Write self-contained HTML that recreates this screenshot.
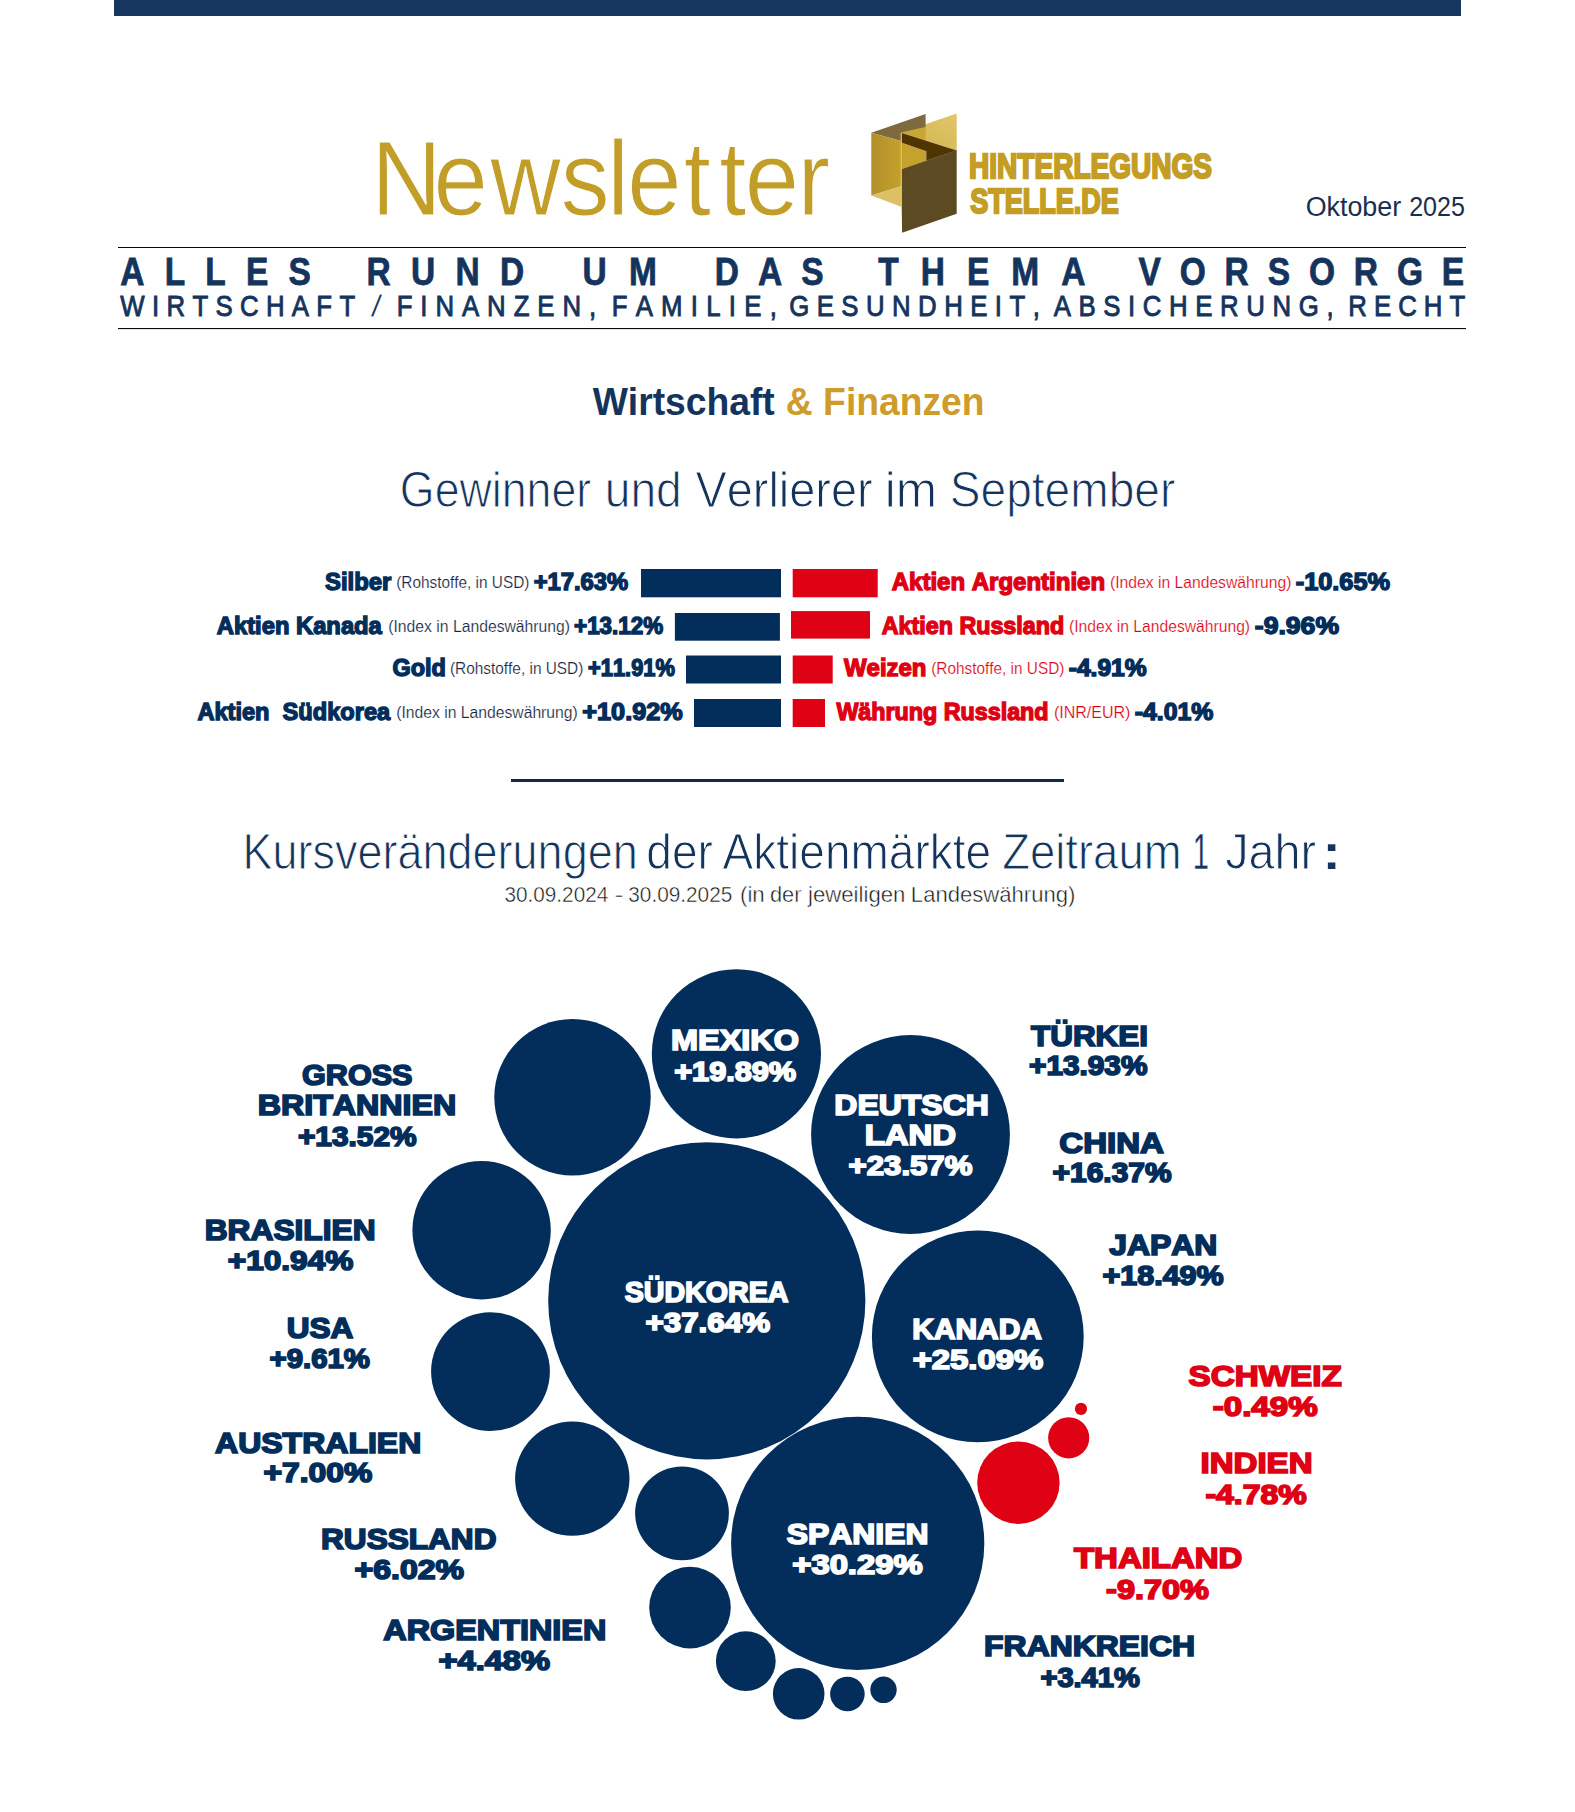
<!DOCTYPE html>
<html lang="de">
<head>
<meta charset="utf-8">
<title>Newsletter Hinterlegungsstelle.de – Oktober 2025</title>
<style>
html,body{margin:0;padding:0;background:#fff}
body{width:1575px;height:1812px;overflow:hidden}
svg{display:block}
svg text{font-family:"Liberation Sans", sans-serif;white-space:pre;font-kerning:none}
</style>
</head>
<body>
<svg width="1575" height="1812" viewBox="0 0 1575 1812" xml:space="preserve">
<rect width="1575" height="1812" fill="#ffffff"/>
<!-- top bar -->
<rect x="114.0" y="0.0" width="1347.0" height="16.0" fill="#17375e"/>
<!-- masthead -->
<text transform="translate(0 215.10) scale(0.93 1)" x="399.16 466.01 527.14 602.84 653.04 674.51 735.11 773.50 800.85 857.54" y="0" font-size="105" fill="#c29d27" stroke="#fff" stroke-width="1.0">Newsletter</text>
<g id="logo-mark">
<defs>
<linearGradient id="lgA" x1="0" y1="0" x2="1" y2="0"><stop offset="0" stop-color="#b28f29"/><stop offset="1" stop-color="#c4a12d"/></linearGradient>
<linearGradient id="lgB" x1="0" y1="1" x2="1" y2="0"><stop offset="0" stop-color="#d2b24a"/><stop offset="1" stop-color="#e0c76c"/></linearGradient>
</defs>
<polygon points="901.2,132.6 956.7,113.4 956.7,150.5" fill="url(#lgB)"/>
<polygon points="901.2,132.6 925.6,127 925.6,140.6" fill="#c9a733"/>
<polygon points="871.3,132.8 925.6,114 925.6,127 901.2,132.6 901.2,141" fill="#7f6a3f"/>
<polygon points="871.3,132.8 901.2,141 901.2,186.2 871.3,195.5" fill="url(#lgA)"/>
<polygon points="871.3,195.5 901.2,186.2 901.2,206.7" fill="#dcc063"/>
<polygon points="901.2,142.6 926.3,151.2 926.3,160.7 901.2,169.3" fill="#c5a22b"/>
<polygon points="901.2,132.8 956.7,150.5 926.3,160.7 926.3,151.2 901.2,142.6" fill="#4e3502"/>
<polygon points="901.2,169.3 956.7,150.3 956.7,213.8 902.1,232.8" fill="#5b4a22"/>
<rect x="900.7" y="133" width="1.2" height="73" fill="#e0c84f"/>
</g>
<text x="969.08" y="178.25" font-size="35.47" fill="#c49d25" font-weight="bold" stroke="#c49d25" stroke-width="2.3" textLength="242.87" lengthAdjust="spacingAndGlyphs">HINTERLEGUNGS</text>
<text x="970.17" y="212.55" font-size="35.47" fill="#c49d25" font-weight="bold" stroke="#c49d25" stroke-width="2.3" textLength="148.74" lengthAdjust="spacingAndGlyphs">STELLE.DE</text>
<text x="1305.73" y="216.20" font-size="27.62" fill="#182f52" textLength="95.42" lengthAdjust="spacingAndGlyphs">Oktober</text>
<text x="1409.14" y="216.20" font-size="27.62" fill="#182f52" textLength="55.82" lengthAdjust="spacingAndGlyphs">2025</text>
<rect x="118.0" y="247.0" width="1348.0" height="1.0" fill="#0a0a0a"/>
<rect x="118.0" y="328.0" width="1348.0" height="1.1" fill="#0a0a0a"/>
<text transform="translate(120.27 284.50) scale(0.86 1)" font-size="38.95" fill="#14345d" font-weight="bold" stroke="#14345d" stroke-width="0.8" textLength="221.68" lengthAdjust="spacing">ALLES</text>
<text transform="translate(366.46 284.50) scale(0.86 1)" font-size="38.95" fill="#14345d" font-weight="bold" stroke="#14345d" stroke-width="0.8" textLength="183.54" lengthAdjust="spacing">RUND</text>
<text transform="translate(582.39 284.50) scale(0.86 1)" font-size="38.95" fill="#14345d" font-weight="bold" stroke="#14345d" stroke-width="0.8" textLength="86.57" lengthAdjust="spacing">UM</text>
<text transform="translate(714.86 284.50) scale(0.86 1)" font-size="38.95" fill="#14345d" font-weight="bold" stroke="#14345d" stroke-width="0.8" textLength="126.45" lengthAdjust="spacing">DAS</text>
<text transform="translate(878.32 284.50) scale(0.86 1)" font-size="38.95" fill="#14345d" font-weight="bold" stroke="#14345d" stroke-width="0.8" textLength="240.88" lengthAdjust="spacing">THEMA</text>
<text transform="translate(1138.47 284.50) scale(0.86 1)" font-size="38.95" fill="#14345d" font-weight="bold" stroke="#14345d" stroke-width="0.8" textLength="378.76" lengthAdjust="spacing">VORSORGE</text>
<text transform="translate(120.34 316.15) scale(0.9 1)" font-size="28.63" fill="#14345d" stroke="#14345d" stroke-width="0.9" textLength="260.89" lengthAdjust="spacing">WIRTSCHAFT</text>
<text x="370.05" y="317.05" font-size="31.25" fill="#14345d" stroke="#fff" stroke-width="0.9" textLength="12.90" lengthAdjust="spacingAndGlyphs">/</text>
<text transform="translate(396.64 316.15) scale(0.9 1)" font-size="28.63" fill="#14345d" stroke="#14345d" stroke-width="0.9" textLength="221.70" lengthAdjust="spacing">FINANZEN,</text>
<text transform="translate(611.64 316.15) scale(0.9 1)" font-size="28.63" fill="#14345d" stroke="#14345d" stroke-width="0.9" textLength="183.59" lengthAdjust="spacing">FAMILIE,</text>
<text transform="translate(789.15 316.15) scale(0.9 1)" font-size="28.63" fill="#14345d" stroke="#14345d" stroke-width="0.9" textLength="278.57" lengthAdjust="spacing">GESUNDHEIT,</text>
<text transform="translate(1053.70 316.15) scale(0.9 1)" font-size="28.63" fill="#14345d" stroke="#14345d" stroke-width="0.9" textLength="310.96" lengthAdjust="spacing">ABSICHERUNG,</text>
<text transform="translate(1348.34 316.15) scale(0.9 1)" font-size="28.63" fill="#14345d" stroke="#14345d" stroke-width="0.9" textLength="129.78" lengthAdjust="spacing">RECHT</text>
<!-- section title -->
<text x="592.66" y="414.70" font-size="39.54" fill="#14345d" font-weight="bold" textLength="182.09" lengthAdjust="spacingAndGlyphs">Wirtschaft</text>
<text x="785.86" y="414.70" font-size="39.54" fill="#cf9b2a" font-weight="bold" textLength="198.75" lengthAdjust="spacingAndGlyphs">&amp; Finanzen</text>
<text x="399.85" y="507.10" font-size="49.42" fill="#14345d" stroke="#fff" stroke-width="1.0" textLength="191.39" lengthAdjust="spacingAndGlyphs">Gewinner</text>
<text x="604.80" y="507.10" font-size="49.42" fill="#14345d" stroke="#fff" stroke-width="1.0" textLength="76.97" lengthAdjust="spacingAndGlyphs">und</text>
<text x="695.49" y="507.10" font-size="49.42" fill="#14345d" stroke="#fff" stroke-width="1.0" textLength="177.18" lengthAdjust="spacingAndGlyphs">Verlierer</text>
<text x="884.79" y="507.10" font-size="49.42" fill="#14345d" stroke="#fff" stroke-width="1.0" textLength="52.28" lengthAdjust="spacingAndGlyphs">im</text>
<text x="949.81" y="507.10" font-size="49.42" fill="#14345d" stroke="#fff" stroke-width="1.0" textLength="225.46" lengthAdjust="spacingAndGlyphs">September</text>
<!-- winners and losers -->
<text x="325.01" y="590.30" font-size="24.42" fill="#032e5b" font-weight="bold" stroke="#032e5b" stroke-width="1.4" textLength="66.35" lengthAdjust="spacingAndGlyphs">Silber</text>
<text x="396.25" y="588.20" font-size="16.72" fill="#14243f" stroke="#fff" stroke-width="0.2" textLength="133.10" lengthAdjust="spacingAndGlyphs">(Rohstoffe, in USD)</text>
<text x="533.70" y="590.30" font-size="23.55" fill="#032e5b" font-weight="bold" stroke="#032e5b" stroke-width="1.4" textLength="94.53" lengthAdjust="spacingAndGlyphs">+17.63%</text>
<rect x="641.0" y="569.0" width="140.0" height="28.3" fill="#032e5b"/>
<text x="216.81" y="633.60" font-size="24.42" fill="#032e5b" font-weight="bold" stroke="#032e5b" stroke-width="1.4" textLength="165.04" lengthAdjust="spacingAndGlyphs">Aktien Kanada</text>
<text x="388.22" y="631.50" font-size="16.72" fill="#14243f" stroke="#fff" stroke-width="0.2" textLength="181.85" lengthAdjust="spacingAndGlyphs">(Index in Landeswährung)</text>
<text x="574.06" y="633.60" font-size="23.55" fill="#032e5b" font-weight="bold" stroke="#032e5b" stroke-width="1.4" textLength="89.13" lengthAdjust="spacingAndGlyphs">+13.12%</text>
<rect x="674.9" y="613.0" width="105.0" height="27.7" fill="#032e5b"/>
<text x="392.44" y="676.30" font-size="24.42" fill="#032e5b" font-weight="bold" stroke="#032e5b" stroke-width="1.4" textLength="53.41" lengthAdjust="spacingAndGlyphs">Gold</text>
<text x="449.95" y="674.20" font-size="16.72" fill="#14243f" stroke="#fff" stroke-width="0.2" textLength="133.41" lengthAdjust="spacingAndGlyphs">(Rohstoffe, in USD)</text>
<text x="588.08" y="676.30" font-size="23.55" fill="#032e5b" font-weight="bold" stroke="#032e5b" stroke-width="1.4" textLength="86.79" lengthAdjust="spacingAndGlyphs">+11.91%</text>
<rect x="686.0" y="655.5" width="95.0" height="28.0" fill="#032e5b"/>
<text x="197.41" y="720.30" font-size="24.42" fill="#032e5b" font-weight="bold" stroke="#032e5b" stroke-width="1.4" textLength="192.74" lengthAdjust="spacingAndGlyphs">Aktien  Südkorea</text>
<text x="396.23" y="718.20" font-size="16.72" fill="#14243f" stroke="#fff" stroke-width="0.2" textLength="181.55" lengthAdjust="spacingAndGlyphs">(Index in Landeswährung)</text>
<text x="582.34" y="720.30" font-size="23.55" fill="#032e5b" font-weight="bold" stroke="#032e5b" stroke-width="1.4" textLength="100.33" lengthAdjust="spacingAndGlyphs">+10.92%</text>
<rect x="694.0" y="699.0" width="87.0" height="28.0" fill="#032e5b"/>
<rect x="792.7" y="569.0" width="85.0" height="28.3" fill="#df0214"/>
<text x="891.80" y="590.30" font-size="24.42" fill="#df0214" font-weight="bold" stroke="#df0214" stroke-width="1.4" textLength="213.29" lengthAdjust="spacingAndGlyphs">Aktien Argentinien</text>
<text x="1109.93" y="588.20" font-size="16.72" fill="#df0214" stroke="#fff" stroke-width="0.2" textLength="181.45" lengthAdjust="spacingAndGlyphs">(Index in Landeswährung)</text>
<text x="1295.71" y="590.30" font-size="23.55" fill="#032e5b" font-weight="bold" stroke="#032e5b" stroke-width="1.4" textLength="94.26" lengthAdjust="spacingAndGlyphs">-10.65%</text>
<rect x="791.0" y="611.1" width="79.0" height="27.5" fill="#df0214"/>
<text x="881.82" y="633.60" font-size="24.42" fill="#df0214" font-weight="bold" stroke="#df0214" stroke-width="1.4" textLength="182.31" lengthAdjust="spacingAndGlyphs">Aktien Russland</text>
<text x="1068.93" y="631.50" font-size="16.72" fill="#df0214" stroke="#fff" stroke-width="0.2" textLength="181.14" lengthAdjust="spacingAndGlyphs">(Index in Landeswährung)</text>
<text x="1254.86" y="633.60" font-size="23.55" fill="#032e5b" font-weight="bold" stroke="#032e5b" stroke-width="1.4" textLength="84.14" lengthAdjust="spacingAndGlyphs">-9.96%</text>
<rect x="792.7" y="655.5" width="40.0" height="28.0" fill="#df0214"/>
<text x="843.98" y="676.30" font-size="24.42" fill="#df0214" font-weight="bold" stroke="#df0214" stroke-width="1.4" textLength="82.51" lengthAdjust="spacingAndGlyphs">Weizen</text>
<text x="931.25" y="674.20" font-size="16.72" fill="#df0214" stroke="#fff" stroke-width="0.2" textLength="133.10" lengthAdjust="spacingAndGlyphs">(Rohstoffe, in USD)</text>
<text x="1068.74" y="676.30" font-size="23.55" fill="#032e5b" font-weight="bold" stroke="#032e5b" stroke-width="1.4" textLength="77.91" lengthAdjust="spacingAndGlyphs">-4.91%</text>
<rect x="792.7" y="699.0" width="32.3" height="28.0" fill="#df0214"/>
<text x="836.38" y="720.30" font-size="24.42" fill="#df0214" font-weight="bold" stroke="#df0214" stroke-width="1.4" textLength="212.16" lengthAdjust="spacingAndGlyphs">Währung Russland</text>
<text x="1053.91" y="718.20" font-size="16.72" fill="#df0214" stroke="#fff" stroke-width="0.2" textLength="76.49" lengthAdjust="spacingAndGlyphs">(INR/EUR)</text>
<text x="1134.73" y="720.30" font-size="23.55" fill="#032e5b" font-weight="bold" stroke="#032e5b" stroke-width="1.4" textLength="78.52" lengthAdjust="spacingAndGlyphs">-4.01%</text>
<!-- divider and chart heading -->
<rect x="511.0" y="779.0" width="553.0" height="3.0" fill="#11294a"/>
<text x="242.51" y="869.10" font-size="50.44" fill="#14345d" stroke="#fff" stroke-width="1.0" textLength="395.21" lengthAdjust="spacingAndGlyphs">Kursveränderungen</text>
<text x="646.36" y="869.10" font-size="50.44" fill="#14345d" stroke="#fff" stroke-width="1.0" textLength="66.60" lengthAdjust="spacingAndGlyphs">der</text>
<text x="722.61" y="869.10" font-size="50.44" fill="#14345d" stroke="#fff" stroke-width="1.0" textLength="268.53" lengthAdjust="spacingAndGlyphs">Aktienmärkte</text>
<text x="1002.16" y="869.10" font-size="50.44" fill="#14345d" stroke="#fff" stroke-width="1.0" textLength="179.44" lengthAdjust="spacingAndGlyphs">Zeitraum</text>
<text x="1192.84" y="868.75" font-size="49.42" fill="#14345d" stroke="#fff" stroke-width="0.3" textLength="16.12" lengthAdjust="spacingAndGlyphs">1</text>
<text x="1225.17" y="869.10" font-size="50.44" fill="#14345d" stroke="#fff" stroke-width="1.0" textLength="91.01" lengthAdjust="spacingAndGlyphs">Jahr</text>
<text x="1322.77" y="868.70" font-size="48.98" fill="#14345d" font-weight="bold" textLength="17.76" lengthAdjust="spacingAndGlyphs">:</text>
<text x="504.49" y="901.93" font-size="22.46" fill="#161616" stroke="#fff" stroke-width="0.45" textLength="103.75" lengthAdjust="spacingAndGlyphs">30.09.2024</text>
<text x="614.56" y="901.93" font-size="22.46" fill="#161616" stroke="#fff" stroke-width="0.45" textLength="9.07" lengthAdjust="spacingAndGlyphs">-</text>
<text x="628.28" y="901.93" font-size="22.46" fill="#161616" stroke="#fff" stroke-width="0.45" textLength="104.01" lengthAdjust="spacingAndGlyphs">30.09.2025</text>
<text x="739.99" y="901.93" font-size="22.46" fill="#161616" stroke="#fff" stroke-width="0.45" textLength="24.78" lengthAdjust="spacingAndGlyphs">(in</text>
<text x="769.96" y="901.93" font-size="22.46" fill="#161616" stroke="#fff" stroke-width="0.45" textLength="31.53" lengthAdjust="spacingAndGlyphs">der</text>
<text x="808.02" y="901.93" font-size="22.46" fill="#161616" stroke="#fff" stroke-width="0.45" textLength="97.35" lengthAdjust="spacingAndGlyphs">jeweiligen</text>
<text x="910.86" y="901.93" font-size="22.46" fill="#161616" stroke="#fff" stroke-width="0.45" textLength="164.53" lengthAdjust="spacingAndGlyphs">Landeswährung)</text>
<!-- bubble chart -->
<circle cx="736.4" cy="1053.8" r="84.6" fill="#032e5b"/>
<circle cx="572.5" cy="1097.3" r="78.2" fill="#032e5b"/>
<circle cx="481.6" cy="1230.2" r="69.2" fill="#032e5b"/>
<circle cx="706.8" cy="1300.8" r="158.6" fill="#032e5b"/>
<circle cx="490.5" cy="1371.6" r="59.4" fill="#032e5b"/>
<circle cx="910.5" cy="1134.5" r="99.4" fill="#032e5b"/>
<circle cx="977.8" cy="1336.4" r="105.9" fill="#032e5b"/>
<circle cx="572.3" cy="1478.6" r="57.2" fill="#032e5b"/>
<circle cx="682.0" cy="1513.3" r="46.9" fill="#032e5b"/>
<circle cx="690.0" cy="1607.6" r="40.8" fill="#032e5b"/>
<circle cx="745.8" cy="1661.1" r="29.9" fill="#032e5b"/>
<circle cx="798.7" cy="1693.8" r="25.8" fill="#032e5b"/>
<circle cx="847.4" cy="1694.0" r="17.3" fill="#032e5b"/>
<circle cx="883.5" cy="1689.8" r="13.2" fill="#032e5b"/>
<circle cx="857.7" cy="1543.4" r="126.6" fill="#032e5b"/>
<circle cx="1018.4" cy="1482.7" r="41.2" fill="#df0214"/>
<circle cx="1068.7" cy="1437.8" r="20.6" fill="#df0214"/>
<circle cx="1081.0" cy="1408.9" r="6.1" fill="#df0214"/>
<text x="671.08" y="1050.25" font-size="29.51" fill="#ffffff" font-weight="bold" stroke="#ffffff" stroke-width="1.7" textLength="127.83" lengthAdjust="spacingAndGlyphs">MEXIKO</text>
<text x="674.16" y="1080.75" font-size="28.05" fill="#ffffff" font-weight="bold" stroke="#ffffff" stroke-width="1.7" textLength="122.00" lengthAdjust="spacingAndGlyphs">+19.89%</text>
<text x="834.31" y="1114.65" font-size="29.51" fill="#ffffff" font-weight="bold" stroke="#ffffff" stroke-width="1.7" textLength="154.59" lengthAdjust="spacingAndGlyphs">DEUTSCH</text>
<text x="864.65" y="1144.75" font-size="29.51" fill="#ffffff" font-weight="bold" stroke="#ffffff" stroke-width="1.7" textLength="91.49" lengthAdjust="spacingAndGlyphs">LAND</text>
<text x="848.64" y="1175.45" font-size="28.05" fill="#ffffff" font-weight="bold" stroke="#ffffff" stroke-width="1.7" textLength="123.73" lengthAdjust="spacingAndGlyphs">+23.57%</text>
<text x="624.63" y="1301.65" font-size="29.51" fill="#ffffff" font-weight="bold" stroke="#ffffff" stroke-width="1.7" textLength="163.88" lengthAdjust="spacingAndGlyphs">SÜDKOREA</text>
<text x="645.54" y="1331.85" font-size="28.05" fill="#ffffff" font-weight="bold" stroke="#ffffff" stroke-width="1.7" textLength="124.44" lengthAdjust="spacingAndGlyphs">+37.64%</text>
<text x="912.35" y="1339.15" font-size="29.51" fill="#ffffff" font-weight="bold" stroke="#ffffff" stroke-width="1.7" textLength="129.49" lengthAdjust="spacingAndGlyphs">KANADA</text>
<text x="912.67" y="1368.65" font-size="28.05" fill="#ffffff" font-weight="bold" stroke="#ffffff" stroke-width="1.7" textLength="130.44" lengthAdjust="spacingAndGlyphs">+25.09%</text>
<text x="786.83" y="1544.25" font-size="29.51" fill="#ffffff" font-weight="bold" stroke="#ffffff" stroke-width="1.7" textLength="141.67" lengthAdjust="spacingAndGlyphs">SPANIEN</text>
<text x="792.27" y="1573.85" font-size="28.05" fill="#ffffff" font-weight="bold" stroke="#ffffff" stroke-width="1.7" textLength="130.34" lengthAdjust="spacingAndGlyphs">+30.29%</text>
<text x="301.99" y="1085.45" font-size="29.51" fill="#032e5b" font-weight="bold" stroke="#032e5b" stroke-width="1.7" textLength="110.55" lengthAdjust="spacingAndGlyphs">GROSS</text>
<text x="257.70" y="1115.15" font-size="29.51" fill="#032e5b" font-weight="bold" stroke="#032e5b" stroke-width="1.7" textLength="198.63" lengthAdjust="spacingAndGlyphs">BRITANNIEN</text>
<text x="297.90" y="1145.75" font-size="28.05" fill="#032e5b" font-weight="bold" stroke="#032e5b" stroke-width="1.7" textLength="118.74" lengthAdjust="spacingAndGlyphs">+13.52%</text>
<text x="204.73" y="1240.45" font-size="29.51" fill="#032e5b" font-weight="bold" stroke="#032e5b" stroke-width="1.7" textLength="170.86" lengthAdjust="spacingAndGlyphs">BRASILIEN</text>
<text x="227.82" y="1270.45" font-size="28.05" fill="#032e5b" font-weight="bold" stroke="#032e5b" stroke-width="1.7" textLength="125.46" lengthAdjust="spacingAndGlyphs">+10.94%</text>
<text x="286.65" y="1337.75" font-size="29.51" fill="#032e5b" font-weight="bold" stroke="#032e5b" stroke-width="1.7" textLength="66.63" lengthAdjust="spacingAndGlyphs">USA</text>
<text x="269.62" y="1368.05" font-size="28.05" fill="#032e5b" font-weight="bold" stroke="#032e5b" stroke-width="1.7" textLength="100.31" lengthAdjust="spacingAndGlyphs">+9.61%</text>
<text x="215.05" y="1452.75" font-size="29.51" fill="#032e5b" font-weight="bold" stroke="#032e5b" stroke-width="1.7" textLength="206.25" lengthAdjust="spacingAndGlyphs">AUSTRALIEN</text>
<text x="263.51" y="1482.45" font-size="28.05" fill="#032e5b" font-weight="bold" stroke="#032e5b" stroke-width="1.7" textLength="108.77" lengthAdjust="spacingAndGlyphs">+7.00%</text>
<text x="321.04" y="1548.75" font-size="29.51" fill="#032e5b" font-weight="bold" stroke="#032e5b" stroke-width="1.7" textLength="175.44" lengthAdjust="spacingAndGlyphs">RUSSLAND</text>
<text x="354.51" y="1578.75" font-size="28.05" fill="#032e5b" font-weight="bold" stroke="#032e5b" stroke-width="1.7" textLength="109.49" lengthAdjust="spacingAndGlyphs">+6.02%</text>
<text x="383.34" y="1640.15" font-size="29.51" fill="#032e5b" font-weight="bold" stroke="#032e5b" stroke-width="1.7" textLength="222.99" lengthAdjust="spacingAndGlyphs">ARGENTINIEN</text>
<text x="438.48" y="1669.75" font-size="28.05" fill="#032e5b" font-weight="bold" stroke="#032e5b" stroke-width="1.7" textLength="111.53" lengthAdjust="spacingAndGlyphs">+4.48%</text>
<text x="1031.10" y="1045.95" font-size="29.51" fill="#032e5b" font-weight="bold" stroke="#032e5b" stroke-width="1.7" textLength="116.85" lengthAdjust="spacingAndGlyphs">TÜRKEI</text>
<text x="1029.00" y="1075.15" font-size="28.05" fill="#032e5b" font-weight="bold" stroke="#032e5b" stroke-width="1.7" textLength="118.44" lengthAdjust="spacingAndGlyphs">+13.93%</text>
<text x="1059.29" y="1152.55" font-size="29.51" fill="#032e5b" font-weight="bold" stroke="#032e5b" stroke-width="1.7" textLength="104.73" lengthAdjust="spacingAndGlyphs">CHINA</text>
<text x="1052.59" y="1182.05" font-size="28.05" fill="#032e5b" font-weight="bold" stroke="#032e5b" stroke-width="1.7" textLength="118.95" lengthAdjust="spacingAndGlyphs">+16.37%</text>
<text x="1109.27" y="1255.45" font-size="29.51" fill="#032e5b" font-weight="bold" stroke="#032e5b" stroke-width="1.7" textLength="108.03" lengthAdjust="spacingAndGlyphs">JAPAN</text>
<text x="1102.57" y="1285.45" font-size="28.05" fill="#032e5b" font-weight="bold" stroke="#032e5b" stroke-width="1.7" textLength="121.08" lengthAdjust="spacingAndGlyphs">+18.49%</text>
<text x="1188.49" y="1385.75" font-size="29.51" fill="#df0214" font-weight="bold" stroke="#df0214" stroke-width="1.7" textLength="153.32" lengthAdjust="spacingAndGlyphs">SCHWEIZ</text>
<text x="1212.76" y="1416.25" font-size="28.05" fill="#df0214" font-weight="bold" stroke="#df0214" stroke-width="1.7" textLength="104.87" lengthAdjust="spacingAndGlyphs">-0.49%</text>
<text x="1200.44" y="1473.35" font-size="29.51" fill="#df0214" font-weight="bold" stroke="#df0214" stroke-width="1.7" textLength="112.14" lengthAdjust="spacingAndGlyphs">INDIEN</text>
<text x="1205.40" y="1504.15" font-size="28.05" fill="#df0214" font-weight="bold" stroke="#df0214" stroke-width="1.7" textLength="101.29" lengthAdjust="spacingAndGlyphs">-4.78%</text>
<text x="1073.98" y="1568.35" font-size="29.51" fill="#df0214" font-weight="bold" stroke="#df0214" stroke-width="1.7" textLength="168.45" lengthAdjust="spacingAndGlyphs">THAILAND</text>
<text x="1106.08" y="1599.15" font-size="28.05" fill="#df0214" font-weight="bold" stroke="#df0214" stroke-width="1.7" textLength="102.82" lengthAdjust="spacingAndGlyphs">-9.70%</text>
<text x="984.12" y="1656.25" font-size="29.51" fill="#032e5b" font-weight="bold" stroke="#032e5b" stroke-width="1.7" textLength="210.88" lengthAdjust="spacingAndGlyphs">FRANKREICH</text>
<text x="1040.43" y="1687.05" font-size="28.05" fill="#032e5b" font-weight="bold" stroke="#032e5b" stroke-width="1.7" textLength="99.28" lengthAdjust="spacingAndGlyphs">+3.41%</text>
</svg>
</body>
</html>
